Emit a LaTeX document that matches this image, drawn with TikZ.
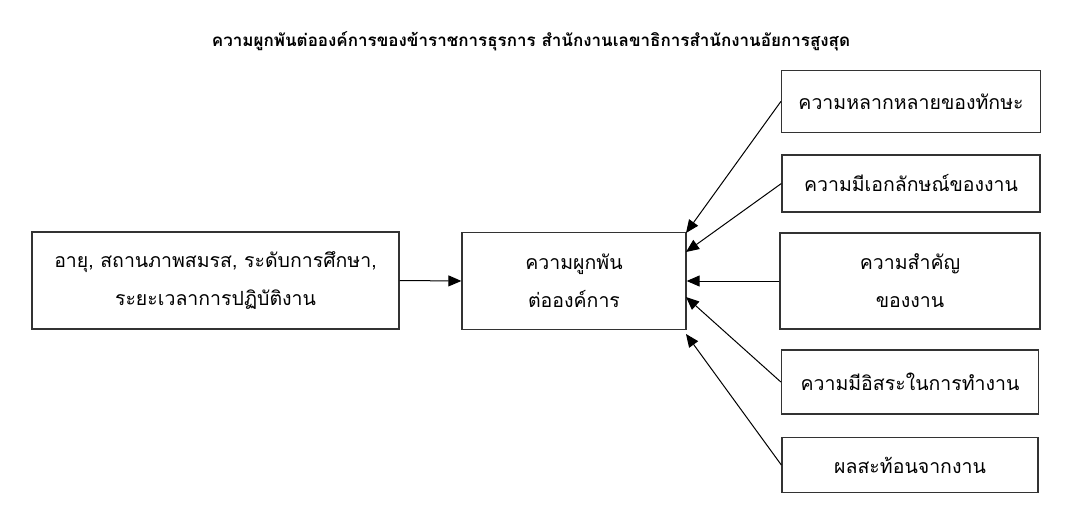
\documentclass[tikz,border=0pt]{standalone}
\usepackage{fontspec}
\newfontfamily\thaifont[Script=Thai]{Loma}
\usetikzlibrary{arrows.meta,positioning,calc}

\tikzset{
	factor/.style={draw=black!80,line width=1.3pt,inner sep=0pt,align=center,font=\thaifont\fontsize{19.5}{38}\selectfont},
	link/.style={line width=1pt,-{Triangle[length=13pt,width=11pt]}}
}

\begin{document}
\begin{tikzpicture}[x=1pt,y=-1pt]
	
	\useasboundingbox (0,0) rectangle (1068,519);
	
	\node [font=\thaifont\bfseries\fontsize{17}{20}\selectfont] (title) at (531,41) {ความผูกพันต่อองค์การของข้าราชการธุรการ สำนักงานเลขาธิการสำนักงานอัยการสูงสุด};
	
	%%%%%%%%%%%%%%%%%%%%%%%%%%%%%%%%%%%%%%%%%%%%%%%%%%%%%%
	
	\node [factor,minimum width=367pt,minimum height=97pt] (personal) at (215.5,280.5) {อายุ, สถานภาพสมรส, ระดับการศึกษา,\\ระยะเวลาการปฏิบัติงาน};
	
	\node [factor,minimum width=224pt,minimum height=97pt] (commitment) at (574,281) {ความผูกพัน\\ต่อองค์การ};
	
	%%%%%%%%%%%%%%%%%%%%%%%%%%%%%%%%%%%%%%%%%%%%%%%%%%%%%%
	
	\node [factor,minimum width=259pt,minimum height=62pt] (variety) at (911,101.5) {ความหลากหลายของทักษะ};
	\node [factor,minimum width=258pt,minimum height=57pt] (identity) at (911,183.5) {ความมีเอกลักษณ์ของงาน};
	\node [factor,minimum width=260pt,minimum height=96pt] (significance) at (910,281) {ความสำคัญ\\ของงาน};
	\node [factor,minimum width=257pt,minimum height=64pt] (autonomy) at (910,382) {ความมีอิสระในการทำงาน};
	\node [factor,minimum width=256pt,minimum height=55pt] (feedback) at (910,465) {ผลสะท้อนจากงาน};
	
	%%%%%%%%%%%%%%%%%%%%%%%%%%%%%%%%%%%%%%%%%%%%%%%%%%%%%%
	
	\coordinate (variety-tip) at (686,233);
	\coordinate (identity-tip) at (686,252);
	\coordinate (autonomy-tip) at (686,297);
	\coordinate (feedback-tip) at (686,334);
	
	\draw [link] (personal.east) -- (commitment.west);
	\draw [link] (variety.west) -- (variety-tip);
	\draw [link] (identity.west) -- (identity-tip);
	\draw [link] (significance.west) -- (commitment.east);
	\draw [link] (autonomy.west) -- (autonomy-tip);
	\draw [link] (feedback.west) -- (feedback-tip);
	
\end{tikzpicture}
\end{document}
